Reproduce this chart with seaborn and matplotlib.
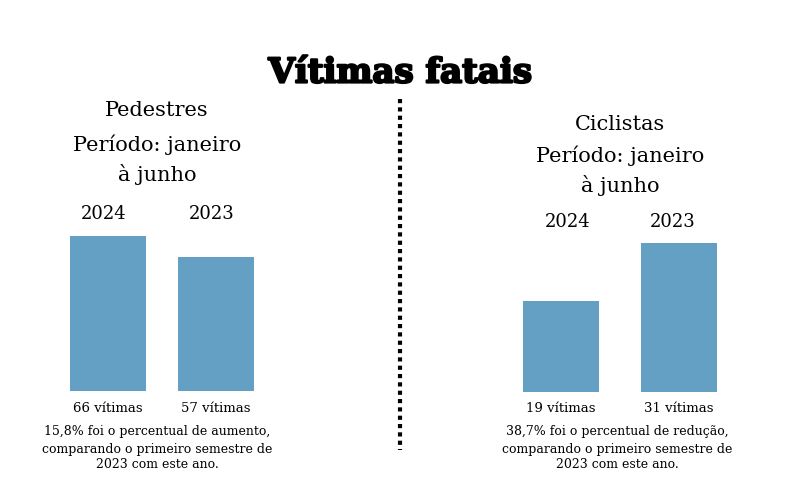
import seaborn as sns
import matplotlib.pyplot as plt
import matplotlib.patheffects as pe
from matplotlib.lines import Line2D

# Data
anos = ['2024', '2023']
pedestres = [66, 57]
ciclistas = [19, 31]
rotulos_pedestres = ['66 vítimas', '57 vítimas']
rotulos_ciclistas = ['19 vítimas', '31 vítimas']
titulo = 'Vítimas fatais'
cab_pedestres = ['Pedestres', 'Período: janeiro', 'à junho']
cab_ciclistas = ['Ciclistas', 'Período: janeiro', 'à junho']
nota_pedestres = ['15,8% foi o percentual de aumento,',
                  'comparando o primeiro semestre de',
                  '2023 com este ano.']
nota_ciclistas = ['38,7% foi o percentual de redução,',
                  'comparando o primeiro semestre de',
                  '2023 com este ano.']

cor = '#64a0c4'

sns.set_theme(style='white')
plt.rcParams['font.family'] = ['DejaVu Serif']
plt.rcParams['text.color'] = 'black'

W, H = 800, 480
fig = plt.figure(figsize=(8, 4.8), dpi=100)
fig.patch.set_facecolor('white')


def px(x0, y0, x1, y1):
    # rect in pixels (top-left origin) -> figure fraction
    return [x0 / W, 1 - y1 / H, (x1 - x0) / W, (y1 - y0) / H]


# left panel: bars bottom at y=391, 2.348 px per victim
ax1 = fig.add_axes(px(54, 391 - 70 * 2.348, 270, 391))
sns.barplot(x=anos, y=pedestres, ax=ax1, color=cor, saturation=1, width=0.70,
            linewidth=0)
ax1.set_xlim(-0.5, 1.5)
ax1.set_ylim(0, 70)

# right panel: bars bottom at y=392, 4.806 px per victim
ax2 = fig.add_axes(px(502, 392 - 35 * 4.806, 738, 392))
sns.barplot(x=anos, y=ciclistas, ax=ax2, color=cor, saturation=1, width=0.644,
            linewidth=0)
ax2.set_xlim(-0.5, 1.5)
ax2.set_ylim(0, 35)

for ax in (ax1, ax2):
    ax.axis('off')

# year labels above bars and victim labels below
for ax, rot, y_ano in ((ax1, rotulos_pedestres, 214), (ax2, rotulos_ciclistas, 222)):
    tr = ax.get_xaxis_transform()
    for i, ano in enumerate(anos):
        fx, _ = fig.transFigure.inverted().transform(tr.transform((i, 0)))
        fig.text(fx - 0.006 if ax is ax1 else fx + (0.008 if i == 0 else -0.008),
                 1 - y_ano / H, ano, ha='center', va='center', fontsize=13)
        fig.text(fx, 1 - 409 / H, rot[i], ha='center', va='center', fontsize=9.5)

# title
fig.text(0.5, 1 - 73 / H, titulo, ha='center', va='center',
         fontsize=24.5, fontweight='bold',
         path_effects=[pe.withStroke(linewidth=1.6, foreground='black')])

# panel headings
for cx, linhas, ys in ((157, cab_pedestres, (110, 145, 175)),
                       (620, cab_ciclistas, (124, 156, 186))):
    for t, y in zip(linhas, ys):
        fig.text(cx / W, 1 - y / H, t, ha='center', va='center', fontsize=15)

# footnotes
for cx, linhas in ((157, nota_pedestres), (617, nota_ciclistas)):
    for t, y in zip(linhas, (432, 449, 465)):
        fig.text(cx / W, 1 - y / H, t, ha='center', va='center', fontsize=9)

# dotted divider
fig.add_artist(Line2D([400 / W, 400 / W], [1 - 99 / H, 1 - 450 / H],
                      transform=fig.transFigure, color='black',
                      linewidth=3, linestyle=(0, (1, 1))))

fig.savefig('out.png', dpi=100, facecolor='white')
